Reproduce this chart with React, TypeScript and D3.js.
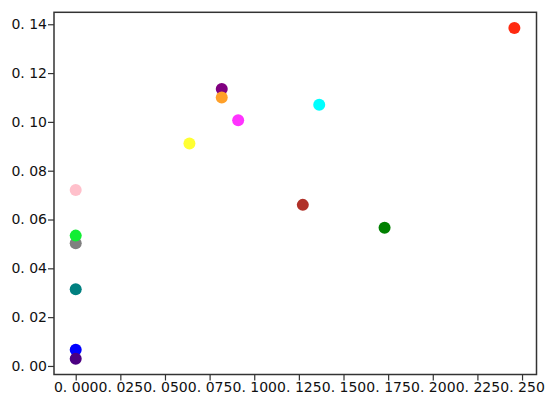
import React, { useEffect, useRef } from 'react';
import * as d3 from 'd3';

// point values (drawing order matters for overlaps)
const xValues = [0.0, 0.0, 0.0, 0.0, 0.0, 0.0, 0.0818, 0.0818, 0.091, 0.0637, 0.1364, 0.1272, 0.173, 0.2457];
const yValues = [0.0721, 0.0503, 0.0534, 0.0314, 0.0066, 0.003, 0.1135, 0.110, 0.1007, 0.0911, 0.107, 0.066, 0.0566, 0.1385];
const pointColors = ['#ffc0cb', '#808080', '#11ee33', '#008080', '#0000ff', '#4b0082', '#800080', '#ffa029', '#ff33ff', '#ffff33', '#00ffff', '#b03028', '#008000', '#ff2a10'];

const xTicks = [0, 0.025, 0.05, 0.075, 0.1, 0.125, 0.15, 0.175, 0.2, 0.225, 0.25];
const yTicks = [0, 0.02, 0.04, 0.06, 0.08, 0.1, 0.12, 0.14];

const fmt = (v: number, digits: number) => {
  const s = v.toFixed(digits);
  return s.replace('.', '. ');
};

const App = () => {
  const svgRef = useRef<SVGSVGElement>(null);

  useEffect(() => {
    const svg = d3.select(svgRef.current);
    svg.selectAll('*').remove();

    const margin = { top: 12.3, right: 13.5, bottom: 31.5, left: 54 };
    const width = 550;
    const height = 406;

    const x = d3.scaleLinear()
      .domain([-0.01216, 0.2581])
      .range([margin.left, width - margin.right]);
    const y = d3.scaleLinear()
      .domain([-0.0035, 0.1449])
      .range([height - margin.bottom, margin.top]);

    // points
    svg.append('g')
      .selectAll('circle')
      .data(xValues.map((v, i) => ({ x: v, y: yValues[i], c: pointColors[i] })))
      .enter()
      .append('circle')
      .attr('cx', d => x(d.x))
      .attr('cy', d => y(d.y))
      .attr('r', 6)
      .attr('fill', d => d.c);

    // frame
    svg.append('rect')
      .attr('x', margin.left)
      .attr('y', margin.top)
      .attr('width', width - margin.left - margin.right)
      .attr('height', height - margin.top - margin.bottom)
      .attr('fill', 'none')
      .attr('stroke', '#333')
      .attr('stroke-width', 1.5);

    const xAxis = svg.append('g')
      .attr('transform', `translate(0,${height - margin.bottom})`)
      .call(d3.axisBottom(x).tickValues(xTicks).tickSize(6).tickFormat(d => fmt(+d, 3)));
    xAxis.select('.domain').remove();

    const yAxis = svg.append('g')
      .attr('transform', `translate(${margin.left},0)`)
      .call(d3.axisLeft(y).tickValues(yTicks).tickSize(6).tickFormat(d => fmt(+d, 2)));
    yAxis.select('.domain').remove();

    svg.selectAll('.tick line').attr('stroke', '#333').attr('stroke-width', 1.2);
    svg.selectAll('.tick text')
      .style('font-family', 'DejaVu Sans, sans-serif')
      .style('font-size', '14px')
      .attr('fill', '#111');
    xAxis.selectAll('text').attr('dy', '0.85em').attr('y', 6);
    yAxis.selectAll('text').attr('x', -7);
  }, []);

  return (
    <svg ref={svgRef} width={550} height={406}
      style={{ position: 'absolute', left: 0, top: 0, background: '#fff' }} />
  );
};

export default App;
